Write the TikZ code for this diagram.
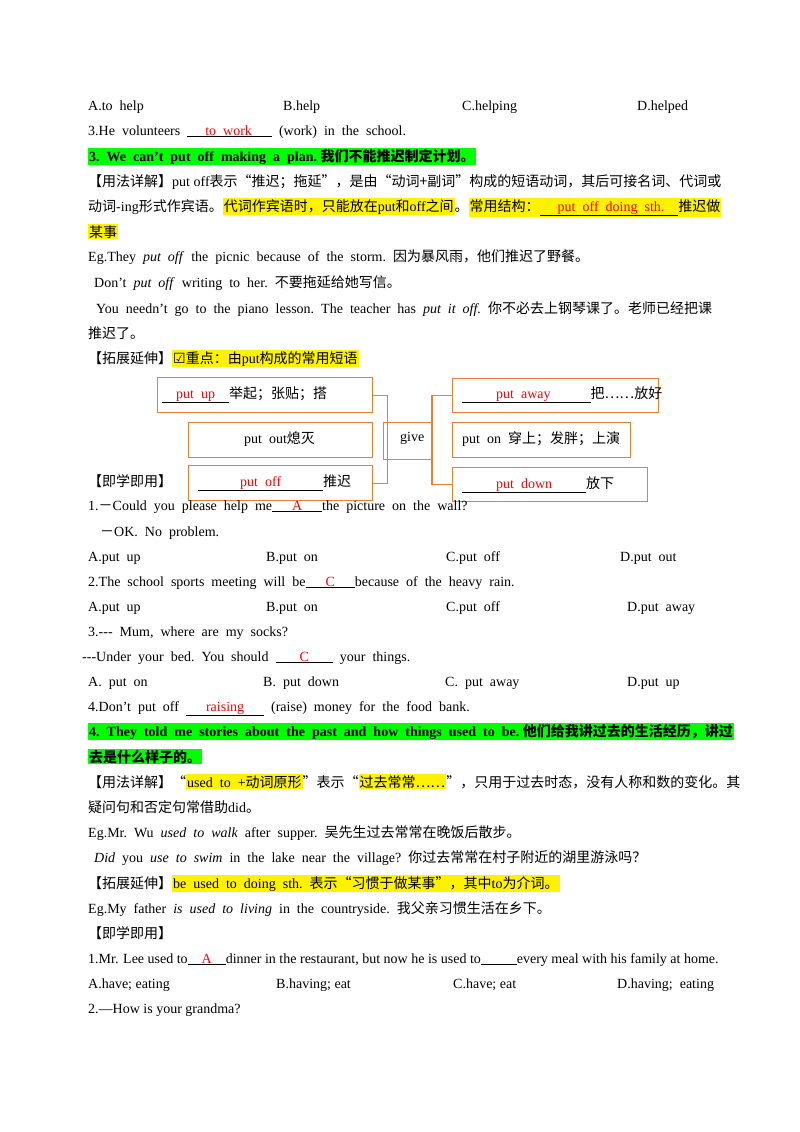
\documentclass[tikz,border=0pt]{standalone}
\usepackage{fontspec}
\setmainfont{Liberation Serif}
\newfontfamily\cjk{Noto Sans CJK SC}
\newfontfamily\dv{DejaVu Sans}
\newcommand\zh[1]{{\cjk #1}}
\newcommand\bl[3]{\underline{\hspace{#1pt}\textcolor{red}{#2}\hspace{#3pt}}}
\newcommand\hly[1]{{\setlength\fboxsep{1pt}\colorbox{yellow}{#1}}}
\newcommand\hlg[1]{{\setlength\fboxsep{1pt}\colorbox{green}{#1}}}
\definecolor{boxor}{RGB}{237,125,49}
\begin{document}
\begin{tikzpicture}[x=1pt,y=-1pt,
  t/.style={anchor=base west,inner sep=0pt,font=\fontsize{14}{17}\selectfont},
  bx/.style={draw=boxor,line width=1.2pt,inner sep=0pt,anchor=north west,font=\fontsize{14}{17}\selectfont,align=left},
  con/.style={draw=boxor,line width=1.2pt}]
\useasboundingbox (0,0) rectangle (800,1132);
\fill[white] (0,0) rectangle (800,1132);
% top
\node[t] (a1) at (88,110) {A.to\ \ help};
\node[t] (a2) at (283,110) {B.help};
\node[t] (a3) at (462,110) {C.helping};
\node[t] (a4) at (637,110) {D.helped};
\node[t] (l2) at (88,135) {3.He\ \ volunteers\ \ \bl{18}{to\ \ work}{20}\ \ (work)\ \ in\ \ the\ \ school.};
\node[t] (l3) at (88,161) {\hlg{\bfseries 3.\ \ We\ \ can’t\ \ put\ \ off\ \ making\ \ a\ \ plan.\ \zh{我们不能推迟制定计划。}}};
\node[t] (l4) at (88,186) {\zh{【用法详解】}put off\zh{表示“推迟；拖延”，是由“动词+副词”构成的短语动词，其后可接名词、代词或}};
\node[t] (l5) at (88,211) {\zh{动词}-ing\zh{形式作宾语。}\hly{\zh{代词作宾语时，只能放在}put\zh{和}off\zh{之间}}\zh{。}\hly{\zh{常用结构：}\bl{18}{put\ \ off\ \ doing\ \ sth.}{14}\zh{推迟做}}};
\node[t] (l6) at (88,237) {\hly{\zh{某事}}};
\node[t] (l7) at (88,261) {Eg.They\ \ \textit{put\ \ off}\ \ the\ \ picnic\ \ because\ \ of\ \ the\ \ storm.\ \ \zh{因为暴风雨，他们推迟了野餐。}};
\node[t] (l8) at (94,287) {Don’t\ \ \textit{put\ \ off}\ \ writing\ \ to\ \ her.\ \ \zh{不要拖延给她写信。}};
\node[t] (l9) at (96,313) {You\ \ needn’t\ \ go\ \ to\ \ the\ \ piano\ \ lesson.\ \ The\ \ teacher\ \ has\ \ \textit{put\ \ it\ \ off.}\ \ \zh{你不必去上钢琴课了。老师已经把课}};
\node[t] (l10) at (88,338) {\zh{推迟了。}};
\node[t] (l11) at (88,363) {\zh{【拓展延伸】}\hly{{\dv ☑}\zh{重点：由}put\zh{构成的常用短语}}};
% boxes
\node[bx,minimum width=215pt,minimum height=35pt] (b1) at (157,377) {};
\node[t] at (162,398) {\bl{0}{\hspace{14pt}put\ \ up}{14}\zh{举起；张贴；搭}};
\node[bx,minimum width=184pt,minimum height=35pt] (b2) at (188,422) {};
\node[t] at (244,443) {put\ \ out\zh{熄灭}};
\node[bx,minimum width=184pt,minimum height=35pt] (b3) at (188,465) {};
\node[t] at (198,486) {\bl{0}{\hspace{42pt}put\ \ off}{42}\zh{推迟}};
\node[bx,minimum width=206pt,minimum height=34pt] (b4) at (452,378) {};
\node[t] at (462,398) {\bl{0}{\hspace{34pt}put\ \ away}{40}\zh{把……放好}};
\node[bx,minimum width=178pt,minimum height=35pt] (b5) at (452,422) {};
\node[t] at (462,443) {put\ \ on\ \ \zh{穿上；发胖；上演}};
\node[bx,minimum width=195pt,minimum height=34pt] (b6) at (452,467) {};
\node[t] at (462,488) {\bl{0}{\hspace{34pt}put\ \ down}{34}\zh{放下}};
\node[bx,minimum width=48pt,minimum height=37pt] (g) at (383,422) {};
\node[t] at (400,441) {give};
\draw[con] (b1.east) -- ++(14,0) |- (b3.east);
\draw[con] (b4.west) -- ++(-20,0) |- (b6.west);
% exercises
\node[t] (m1) at (88,486) {\zh{【即学即用】}};
\node[t] (q1) at (88,510) {1.\zh{－}Could\ \ you\ \ please\ \ help\ \ me\bl{20}{A}{20}the\ \ picture\ \ on\ \ the\ \ wall?};
\node[t] (q1b) at (100,536) {\zh{－}OK.\ \ No\ \ problem.};
\node[t] at (88,561) {A.put\ \ up};
\node[t] at (266,561) {B.put\ \ on};
\node[t] at (446,561) {C.put\ \ off};
\node[t] at (620,561) {D.put\ \ out};
\node[t] (q2) at (88,586) {2.The\ \ school\ \ sports\ \ meeting\ \ will\ \ be\bl{20}{C}{20}because\ \ of\ \ the\ \ heavy\ \ rain.};
\node[t] at (88,611) {A.put\ \ up};
\node[t] at (266,611) {B.put\ \ on};
\node[t] at (446,611) {C.put\ \ off};
\node[t] at (627,611) {D.put\ \ away};
\node[t] (q3) at (88,636) {3.-{}-{}-\ \ Mum,\ \ where\ \ are\ \ my\ \ socks?};
\node[t] (q3b) at (82,661) {-{}-{}-Under\ \ your\ \ bed.\ \ You\ \ should\ \ \bl{24}{C}{24}\ \ your\ \ things.};
\node[t] at (88,686) {A.\ \ put\ \ on};
\node[t] at (263,686) {B.\ \ put\ \ down};
\node[t] at (445,686) {C.\ \ put\ \ away};
\node[t] at (627,686) {D.put\ \ up};
\node[t] (q4) at (88,711) {4.Don’t\ \ put\ \ off\ \ \bl{20}{raising}{20}\ \ (raise)\ \ money\ \ for\ \ the\ \ food\ \ bank.};
\node[t] (h4) at (88,736) {\hlg{\bfseries 4.\ \ They\ \ told\ \ me\ \ stories\ \ about\ \ the\ \ past\ \ and\ \ how\ \ things\ \ used\ \ to\ \ be.\ \zh{他们给我讲过去的生活经历，讲过}}};
\node[t] (h4b) at (88,762) {\hlg{\bfseries\zh{去是什么样子的。}}};
\node[t] (u1) at (88,787) {\zh{【用法详解】“}\hly{used\ \ to\ \ +\zh{动词原形}}\zh{”表示“}\hly{\zh{过去常常……}}\zh{”，只用于过去时态，没有人称和数的变化。其}};
\node[t] (u2) at (88,812) {\zh{疑问句和否定句常借助}did\zh{。}};
\node[t] (u3) at (88,837) {Eg.Mr.\ \ Wu\ \ \textit{used\ \ to\ \ walk}\ \ after\ \ supper.\ \ \zh{吴先生过去常常在晚饭后散步。}};
\node[t] (u4) at (94,862) {\textit{Did}\ \ you\ \ \textit{use\ \ to\ \ swim}\ \ in\ \ the\ \ lake\ \ near\ \ the\ \ village?\ \ \zh{你过去常常在村子附近的湖里游泳吗？}};
\node[t] (u5) at (88,888) {\zh{【拓展延伸】}\hly{be\ \ used\ \ to\ \ doing\ \ sth.\ \ \zh{表示“习惯于做某事”，其中}to\zh{为介词。}}};
\node[t] (u6) at (88,913) {Eg.My\ \ father\ \ \textit{is\ \ used\ \ to\ \ living}\ \ in\ \ the\ \ countryside.\ \ \zh{我父亲习惯生活在乡下。}};
\node[t] (m2) at (88,938) {\zh{【即学即用】}};
\node[t] (r1) at (88,963) {1.Mr. Lee used to\bl{14}{A}{14}dinner in the restaurant, but now he is used to\underline{\hspace{36pt}}every meal with his family at home.};
\node[t] at (88,988) {A.have; eating};
\node[t] at (276,988) {B.having; eat};
\node[t] at (453,988) {C.have; eat};
\node[t] at (617,988) {D.having;\ \ eating};
\node[t] (r2) at (88,1013) {2.—How is your grandma?};
\end{tikzpicture}
\end{document}
